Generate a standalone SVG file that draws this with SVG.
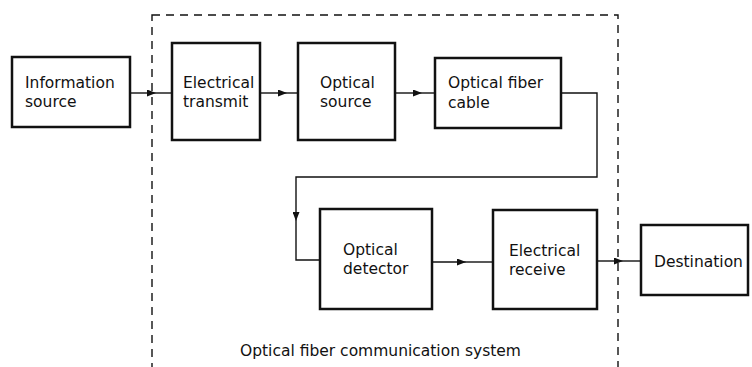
<svg xmlns="http://www.w3.org/2000/svg" width="752" height="367" viewBox="0 0 752 367">
<style>
.box{fill:#fff;stroke:#111;stroke-width:2.5}
.t{font-family:"DejaVu Sans","Liberation Sans",sans-serif;font-size:15.5px;fill:#111}
.c{fill:none;stroke:#111;stroke-width:1.4}
.dash{fill:none;stroke:#111;stroke-width:1.4;stroke-dasharray:8 6}
</style>
<defs>
<marker id="arr" markerUnits="userSpaceOnUse" markerWidth="9" markerHeight="7" refX="9" refY="3.5" orient="auto">
<path d="M0,0 L9,3.5 L0,7 z" fill="#111"/>
</marker>
</defs>
<rect width="752" height="367" fill="#fff"/>
<g id="system-boundary">
<rect class="dash" x="152" y="15" width="466" height="370"/>
<text class="t" x="240" y="356">Optical fiber communication system</text>
</g>
<g id="connectors">
<path class="c" d="M130 93 H156" marker-end="url(#arr)"/>
<path class="c" d="M156 93 H172"/>
<path class="c" d="M260 93 H287" marker-end="url(#arr)"/>
<path class="c" d="M287 93 H298"/>
<path class="c" d="M395 93 H422" marker-end="url(#arr)"/>
<path class="c" d="M422 93 H435"/>
<path class="c" d="M561 93 H597 V177 H296 V221" marker-end="url(#arr)"/>
<path class="c" d="M296 221 V260 H320"/>
<path class="c" d="M432 262 H466" marker-end="url(#arr)"/>
<path class="c" d="M466 262 H493"/>
<path class="c" d="M597 261 H623" marker-end="url(#arr)"/>
<path class="c" d="M623 261 H641"/>
</g>
<g id="information-source">
<rect class="box" x="12" y="57" width="118" height="70"/>
<text class="t" x="25" y="88">Information</text>
<text class="t" x="25" y="107">source</text>
</g>
<g id="electrical-transmit">
<rect class="box" x="172" y="43" width="88" height="97"/>
<text class="t" x="183" y="88">Electrical</text>
<text class="t" x="183" y="107">transmit</text>
</g>
<g id="optical-source">
<rect class="box" x="298" y="43" width="97" height="97"/>
<text class="t" x="320" y="88">Optical</text>
<text class="t" x="320" y="107">source</text>
</g>
<g id="optical-fiber-cable">
<rect class="box" x="435" y="58" width="126" height="70"/>
<text class="t" x="448" y="88">Optical fiber</text>
<text class="t" x="448" y="108">cable</text>
</g>
<g id="optical-detector">
<rect class="box" x="320" y="209" width="112" height="100"/>
<text class="t" x="343" y="255">Optical</text>
<text class="t" x="343" y="274">detector</text>
</g>
<g id="electrical-receive">
<rect class="box" x="493" y="210" width="104" height="99"/>
<text class="t" x="509" y="256">Electrical</text>
<text class="t" x="509" y="275">receive</text>
</g>
<g id="destination">
<rect class="box" x="641" y="225" width="107" height="70"/>
<text class="t" x="654" y="267">Destination</text>
</g>
</svg>
